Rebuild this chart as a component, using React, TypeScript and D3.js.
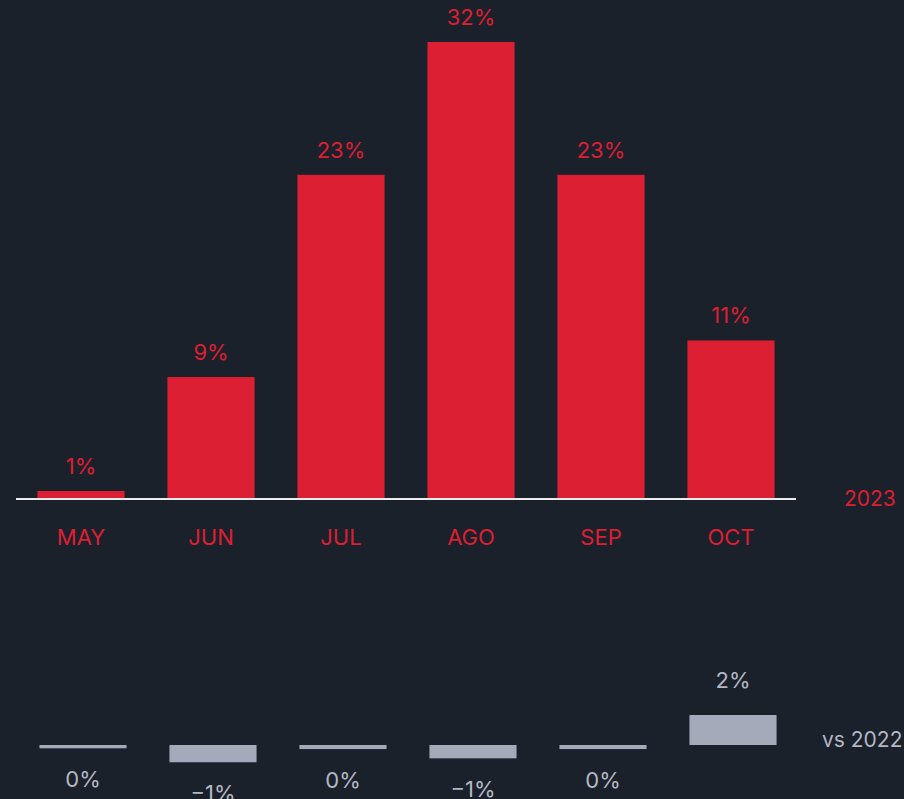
import React from 'react';
import * as d3 from 'd3';

const months = ['MAY', 'JUN', 'JUL', 'AGO', 'SEP', 'OCT'];
const share2023 = [0.56, 8.54, 22.7, 32, 22.7, 11.1];
const diffVs2022 = [-0.22, -1.15, -0.27, -0.89, -0.27, 2.0];

const W = 904;
const H = 799;
const BG = '#1b212b';
const RED = '#dc1f32';
const GRAY = '#a5aaba';
const GRAY_TEXT = '#b3b7c3';
const FONT = 'Inter, "Noto Sans", sans-serif';

const pct = (v: number) => {
  const r = Math.round(v);
  return (r < 0 ? '\u2212' + Math.abs(r) : String(Math.abs(r))) + '%';
};

export default function App() {
  const x = d3.scaleBand<string>()
    .domain(months)
    .range([16, 796])
    .paddingInner(0.33)
    .paddingOuter(0.165);

  const xSmall = d3.scaleBand<string>()
    .domain(months)
    .range([18, 798])
    .paddingInner(0.33)
    .paddingOuter(0.165);

  // main chart
  const y = d3.scaleLinear().domain([0, 32]).range([499, 42]);
  // comparison strip
  const yd = d3.scaleLinear().domain([0, 2]).range([745, 715]);

  return (
    <svg
      width={W}
      height={H}
      style={{ position: 'absolute', left: 0, top: 0, background: BG }}
      fontFamily={FONT}
    >
      <rect width={W} height={H} fill={BG} />

      {months.map((m, i) => {
        const v = share2023[i];
        const bx = x(m)!;
        return (
          <g key={m}>
            <rect x={bx} y={y(v)} width={x.bandwidth()} height={y(0) - y(v)} fill={RED} />
            <text
              x={bx + x.bandwidth() / 2}
              y={y(v) - 17}
              textAnchor="middle"
              fontSize={22}
              fill={RED}
            >
              {pct(v)}
            </text>
            <text
              x={bx + x.bandwidth() / 2}
              y={545}
              textAnchor="middle"
              fontSize={22}
              fill={RED}
            >
              {m}
            </text>
          </g>
        );
      })}

      <line x1={16} x2={796} y1={y(0)} y2={y(0)} stroke="#ececec" strokeWidth={2} />
      <text x={844} y={506} fontSize={21} fill={RED}>2023</text>

      {months.map((m, i) => {
        const v = diffVs2022[i];
        const bx = xSmall(m)!;
        const top = Math.min(yd(v), yd(0));
        const h = Math.abs(yd(v) - yd(0));
        const cx = bx + xSmall.bandwidth() / 2;
        const ly = v >= 0 ? yd(v) - 27 : yd(v) + 39;
        return (
          <g key={'d' + m}>
            <rect x={bx} y={top} width={xSmall.bandwidth()} height={h} fill={GRAY} />
            <text x={cx} y={ly} textAnchor="middle" fontSize={22} fill={GRAY_TEXT}>
              {pct(v)}
            </text>
          </g>
        );
      })}

      <text x={822} y={747} fontSize={21} fill={GRAY_TEXT}>vs 2022</text>
    </svg>
  );
}
